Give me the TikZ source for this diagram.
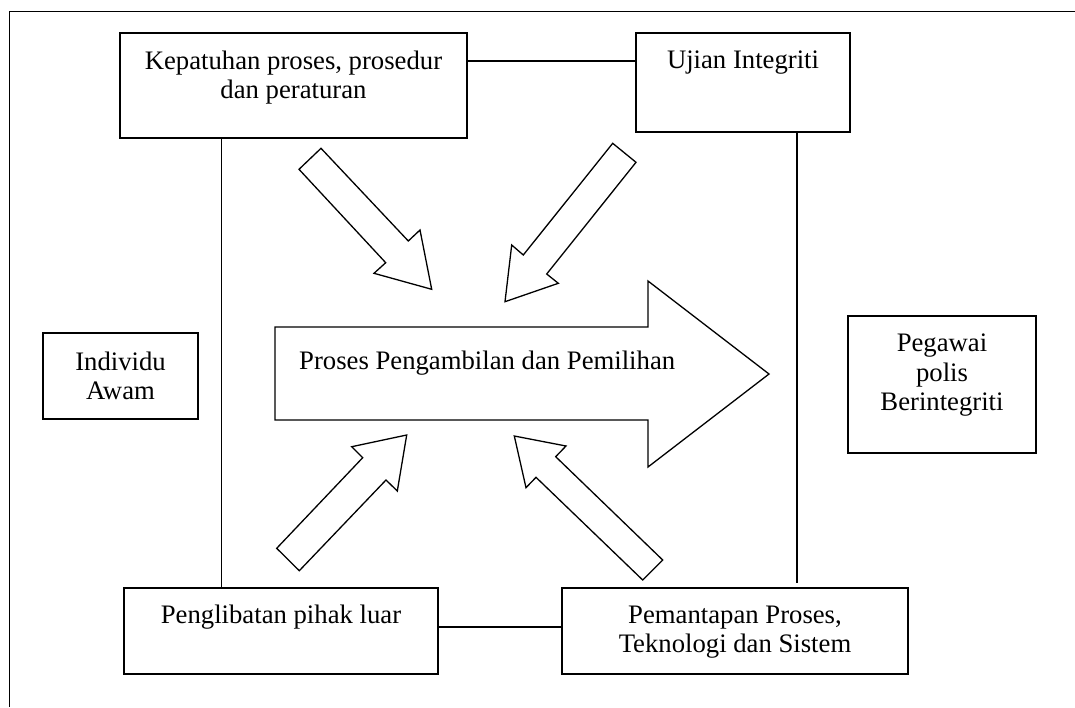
\documentclass[tikz,border=0pt]{standalone}
\usepackage{fontspec}
\setmainfont{Liberation Serif}
\begin{document}
\begin{tikzpicture}[x=1pt,y=-1pt,
  box/.style={draw=black,line width=1.6pt,rectangle,inner sep=0pt,fill=white},
  txt/.style={align=center,inner sep=0pt,font=\fontsize{26.7}{29.5}\selectfont},
  conn/.style={draw=black,line width=1.2pt},
  arr/.style={draw=black,line width=1.3pt,line join=miter,fill=white},
  frame/.style={draw=black,line width=1.5pt}]
\useasboundingbox (0,0) rectangle (1075,707);
% outer frame
\coordinate (f1) at (1075,11.5);
\coordinate (f2) at (9.5,11.5);
\coordinate (f3) at (9.5,707);
\draw[frame] (f1) -- (f2) -- (f3);
% boxes
\node[box,minimum width=347pt,minimum height=105pt] (k) at (293.5,85.5) {};
\node[box,minimum width=214pt,minimum height=99pt] (u) at (743,82.5) {};
\node[box,minimum width=314pt,minimum height=86pt] (p) at (281,631) {};
\node[box,minimum width=346pt,minimum height=86pt] (m) at (735,631) {};
\node[box,minimum width=155pt,minimum height=86pt] (i) at (120.5,376) {};
\node[box,minimum width=188pt,minimum height=137pt] (g) at (942,384.5) {};
% texts (base anchor = baseline of the last line)
\node[txt,anchor=base] (kt) at (293.5,98.8) {Kepatuhan proses, prosedur\\dan peraturan};
\node[txt,anchor=base] (ut) at (743,68.3) {Ujian Integriti};
\node[txt,anchor=base] (pt) at (281,623.3) {Penglibatan pihak luar};
\node[txt,anchor=base] (mt) at (735,652.8) {Pemantapan Proses,\\Teknologi dan Sistem};
\node[txt,anchor=base] (it) at (120.5,399.5) {Individu\\Awam};
\node[txt,anchor=base] (gt) at (942,410.7) {Pegawai\\polis\\Berintegriti};
% connectors
\draw[conn] ([yshift=24.5pt]k.east) -- ([yshift=21.5pt]u.west);
\draw[conn] ([xshift=-72pt]k.south) -- ([xshift=-59.5pt]p.north);
\draw[conn] ([yshift=4pt]p.east) -- ([yshift=4pt]m.west);
\coordinate (rend) at (797,583);
\draw[conn] ([xshift=54pt]u.south) -- (rend);
% big arrow
\draw[arr] (275,327) -- (648,327) -- (648,281) -- (769,374) -- (648,467) -- (648,420) -- (275,420) -- cycle;
\node[txt,anchor=base west] (bt) at (299,369.3) {Proses Pengambilan dan Pemilihan};
% small arrows
\draw[arr] (321,148.3) -- (408.3,241) -- (420,230) -- (431.7,289.3) -- (374,273.3) -- (385.7,262.7) -- (299,169.3) -- cycle;
\draw[arr] (612.7,143.3) -- (636,162.3) -- (546.7,274) -- (558.3,283.3) -- (505,301.7) -- (511.7,245) -- (523.3,255) -- cycle;
\draw[arr] (406.7,435) -- (351.7,446.7) -- (362.7,457.7) -- (276.7,548.3) -- (299.3,570.7) -- (386,480) -- (397.3,491) -- cycle;
\draw[arr] (514.3,436) -- (566,446) -- (555.7,456.7) -- (662.7,560) -- (642.7,580) -- (536,477.3) -- (526,487.7) -- cycle;
\end{tikzpicture}
\end{document}
